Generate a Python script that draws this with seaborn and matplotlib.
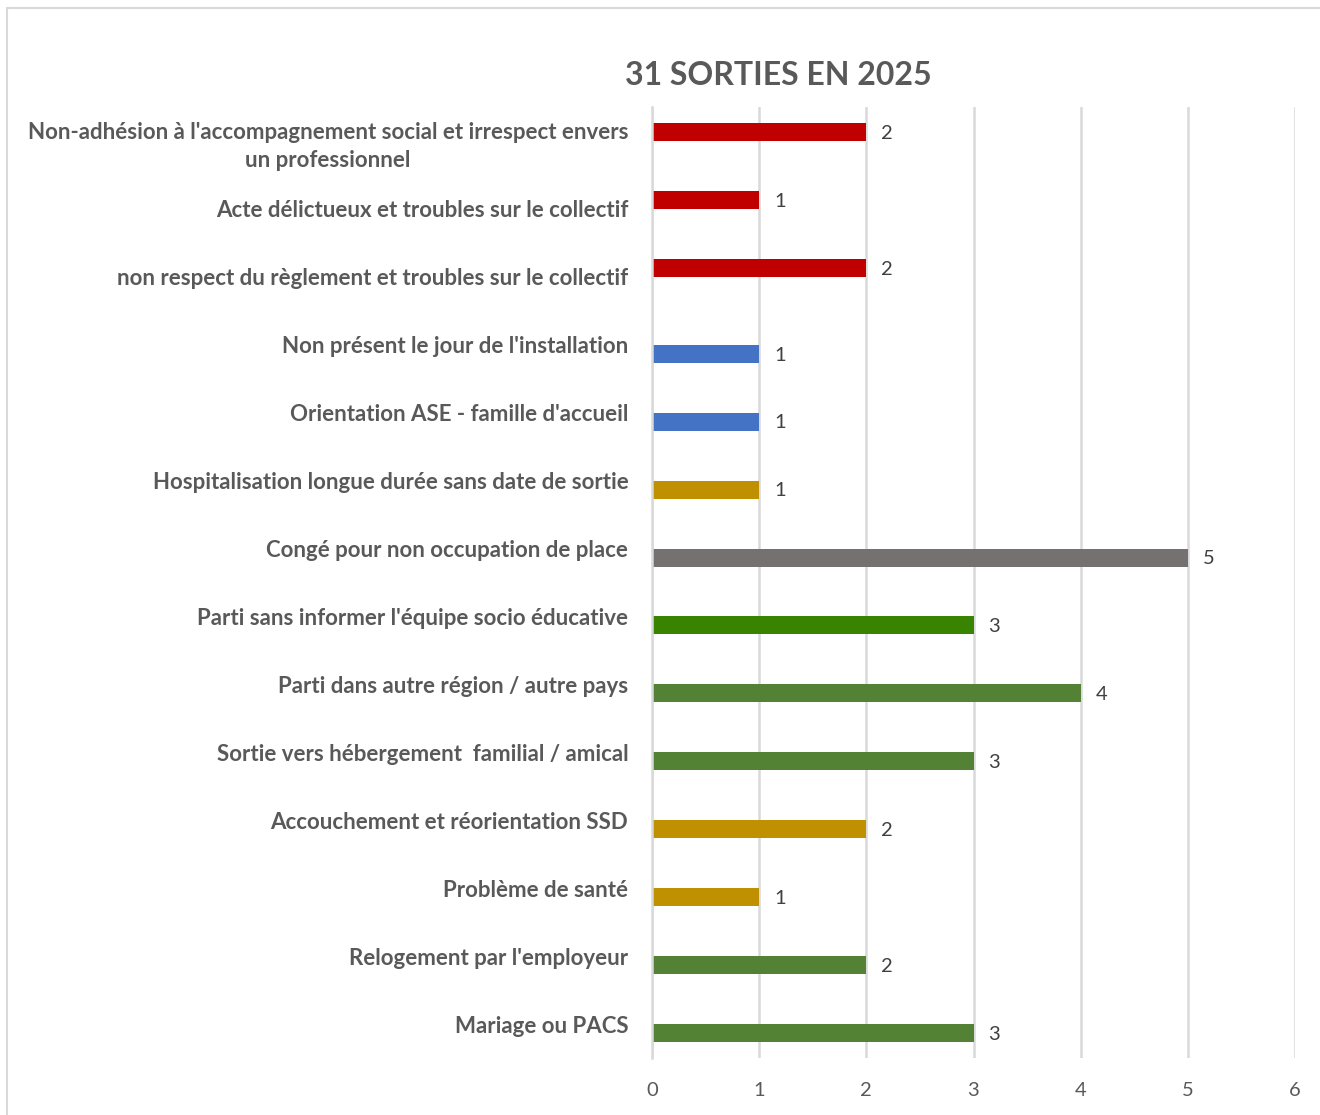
import numpy as np
import matplotlib
matplotlib.use("Agg")
import matplotlib.pyplot as plt
import pandas as pd
import seaborn as sns
from matplotlib.lines import Line2D

motifs = [
    "Non-adhésion à l'accompagnement social et irrespect envers\nun professionnel",
    "Acte délictueux et troubles sur le collectif",
    "non respect du règlement et troubles sur le collectif",
    "Non présent le jour de l'installation",
    "Orientation ASE - famille d'accueil",
    "Hospitalisation longue durée sans date de sortie",
    "Congé pour non occupation de place",
    "Parti sans informer l'équipe socio éducative",
    "Parti dans autre région / autre pays",
    "Sortie vers hébergement  familial / amical",
    "Accouchement et réorientation SSD",
    "Problème de santé",
    "Relogement par l'employeur",
    "Mariage ou PACS",
]
nombres = [2, 1, 2, 1, 1, 1, 5, 3, 4, 3, 2, 1, 2, 3]
series = ["exclusion"] * 3 + ["autre"] * 11
couleurs = ["#C00000", "#C00000", "#C00000", "#4472C4", "#4472C4", "#BF9000",
            "#767171", "#388400", "#548235", "#548235", "#BF9000", "#BF9000",
            "#548235", "#548235"]
titre = "31 SORTIES EN 2025"

df = pd.DataFrame({"motif": motifs, "nombre": nombres, "serie": series})

sns.set_style("white")
plt.rcParams["font.family"] = ["Lato", "DejaVu Sans"]

fig = plt.figure(figsize=(13.2, 11.15), dpi=100)
ax = fig.add_axes([0.4939, 0.0511, 0.4872, 0.853])

sns.barplot(data=df, x="nombre", y="motif", hue="serie", order=motifs,
            hue_order=["exclusion", "autre"], dodge=True, width=0.53,
            orient="h", legend=False, ax=ax)

# couleur par ligne
for bar in ax.patches:
    yc = bar.get_y() + bar.get_height() / 2
    i = int(round(yc))
    bar.set_facecolor(couleurs[i])
    bar.set_edgecolor("none")
    ax.text(bar.get_width() + 0.14, yc + 0.02, str(int(bar.get_width())),
            va="center", ha="left", fontsize=14.5, color="#404040")

ax.set_xlim(0, 6)
ax.set_ylim(len(motifs) - 0.5, -0.5)
ax.set_xticks(range(7))
ax.xaxis.grid(True, color="#D9D9D9", linewidth=1.8)
ax.set_axisbelow(True)
for s in ["top", "right", "bottom"]:
    ax.spines[s].set_visible(False)
ax.spines["left"].set_color("#D9D9D9")
ax.spines["left"].set_linewidth(1.8)
ax.set_xlabel("")
ax.set_ylabel("")
ax.tick_params(axis="x", length=0, pad=17, labelsize=14.5, labelcolor="#595959")
ax.tick_params(axis="y", length=0, pad=17, labelsize=16, labelcolor="#595959")
for lab in ax.get_yticklabels():
    lab.set_fontweight("bold")
    lab.set_multialignment("center")
    lab.set_linespacing(1.4)

fig.text(0.5894, 0.932, titre, ha="center", va="center", fontsize=23,
         fontweight="bold", color="#595959")

# cadre du graphique
fig.add_artist(Line2D([7 / 1320, 1], [1 - 8 / 1115, 1 - 8 / 1115],
                      transform=fig.transFigure, color="#D9D9D9", linewidth=1.5))
fig.add_artist(Line2D([7 / 1320, 7 / 1320], [0, 1 - 8 / 1115],
                      transform=fig.transFigure, color="#D9D9D9", linewidth=1.5))

fig.savefig("out.png", dpi=100, facecolor="white")
